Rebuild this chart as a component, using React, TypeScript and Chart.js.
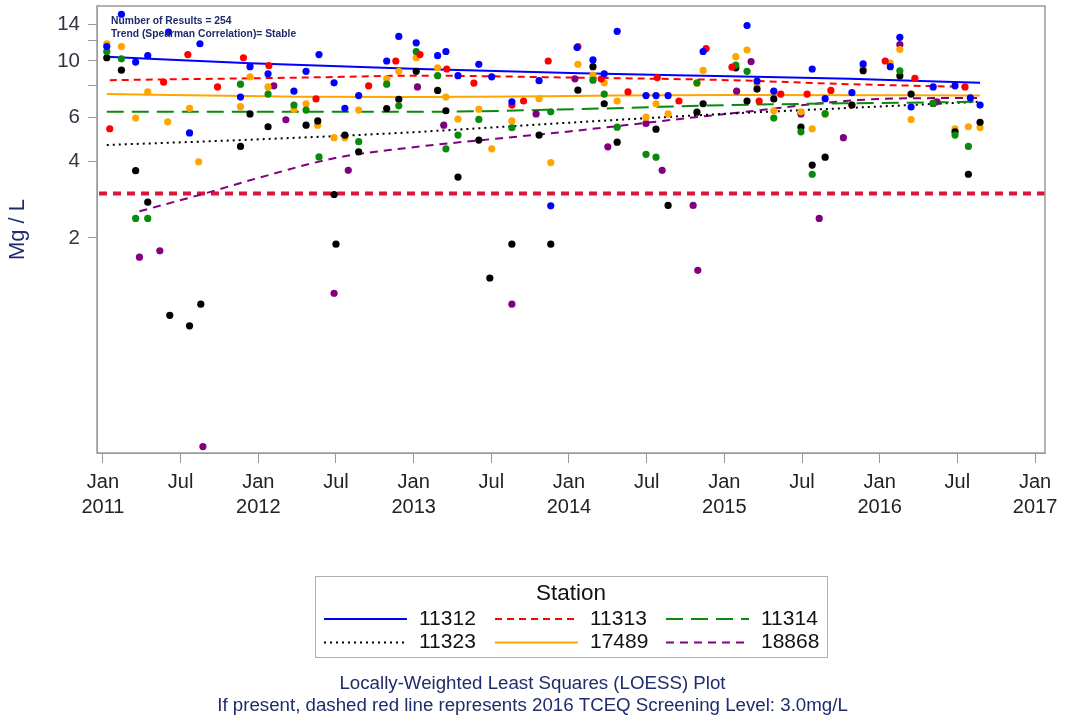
import { useEffect, useRef } from "react";
import { Chart, registerables } from "chart.js";

Chart.register(...registerables);

const FONT = "'Liberation Sans', Arial, Helvetica, sans-serif";
const NAVY = "#1f2c6b";

// ---------- data ----------
const stationNames = ["11312", "11313", "11314", "11323", "17489", "18868"];
const stationColors = ["#0000ff", "#ff0000", "#0a8a0a", "#000000", "#ffa500", "#800080"];
const loessDash: number[][] = [[], [7, 5], [17, 8], [2, 4], [], [8, 6]];

const screeningLevel = 3.0;
const resultCount = 254;
const trendText = "Stable";

const xTickLabels: string[][] = [
  ["Jan", "2011"], ["Jul"], ["Jan", "2012"], ["Jul"], ["Jan", "2013"], ["Jul"],
  ["Jan", "2014"], ["Jul"], ["Jan", "2015"], ["Jul"], ["Jan", "2016"], ["Jul"], ["Jan", "2017"],
];
const yTickValues = [2, 4, 6, 8, 10, 12, 14];
const yTickLabels = ["2", "4", "6", "", "10", "", "14"];

const obs11312: [string, number][] = [
  ["2011-01-10", 11.4], ["2011-02-14", 15.3], ["2011-03-17", 9.9], ["2011-04-15", 10.5], ["2011-06-03", 13.0],
  ["2011-07-22", 5.2], ["2011-08-16", 11.7], ["2011-11-20", 7.2], ["2011-12-12", 9.5], ["2012-01-24", 8.9],
  ["2012-03-24", 7.6], ["2012-04-22", 9.1], ["2012-05-22", 10.6], ["2012-06-27", 8.2], ["2012-07-22", 6.5],
  ["2012-08-24", 7.3], ["2012-10-29", 10.0], ["2012-11-27", 12.5], ["2013-01-07", 11.8], ["2013-02-27", 10.5],
  ["2013-03-16", 10.9], ["2013-04-14", 8.75], ["2013-06-02", 9.7], ["2013-07-02", 8.66], ["2013-08-19", 6.9],
  ["2013-10-22", 8.36], ["2013-11-19", 2.68], ["2014-01-20", 11.3], ["2014-02-27", 10.1], ["2014-03-23", 8.9],
  ["2014-04-23", 13.1], ["2014-06-30", 7.3], ["2014-07-23", 7.3], ["2014-08-21", 7.3], ["2014-11-12", 10.9],
  ["2015-02-24", 13.8], ["2015-03-17", 8.33], ["2015-04-26", 7.6], ["2015-07-25", 9.3], ["2015-08-25", 7.1],
  ["2015-10-27", 7.5], ["2015-11-23", 9.74], ["2016-01-26", 9.5], ["2016-02-18", 12.4], ["2016-03-14", 6.58],
  ["2016-05-05", 7.9], ["2016-06-26", 7.98], ["2016-08-01", 7.15], ["2016-08-24", 6.7],
];
const obs11313: [string, number][] = [
  ["2011-01-17", 5.4], ["2011-05-22", 8.25], ["2011-07-18", 10.6], ["2011-09-27", 7.9], ["2011-11-27", 10.3],
  ["2012-01-26", 9.6], ["2012-05-15", 7.08], ["2012-09-17", 7.98], ["2012-11-20", 10.0], ["2013-01-16", 10.6],
  ["2013-03-18", 9.3], ["2013-05-21", 8.18], ["2013-08-19", 6.7], ["2013-09-16", 6.95], ["2013-11-13", 10.0],
  ["2014-01-22", 11.4], ["2014-03-16", 8.5], ["2014-05-18", 7.55], ["2014-07-26", 8.6], ["2014-09-16", 6.95],
  ["2014-11-19", 11.2], ["2015-01-19", 9.45], ["2015-03-22", 6.95], ["2015-05-12", 7.4], ["2015-07-13", 7.4],
  ["2015-09-08", 7.65], ["2016-01-14", 10.0], ["2016-03-23", 8.54], ["2016-07-19", 7.9],
];
const obs11314: [string, number][] = [
  ["2011-01-10", 10.9], ["2011-02-14", 10.2], ["2011-03-17", 2.39], ["2011-04-15", 2.39], ["2011-11-20", 8.1],
  ["2012-01-24", 7.4], ["2012-03-24", 6.7], ["2012-04-22", 6.4], ["2012-05-22", 4.18], ["2012-08-24", 4.8],
  ["2012-10-29", 8.1], ["2012-11-27", 6.65], ["2013-01-07", 10.9], ["2013-02-27", 8.75], ["2013-03-16", 4.5],
  ["2013-04-14", 5.1], ["2013-06-02", 5.88], ["2013-08-19", 5.45], ["2013-11-19", 6.3], ["2014-02-27", 8.4],
  ["2014-03-23", 7.4], ["2014-04-23", 5.48], ["2014-06-30", 4.28], ["2014-07-23", 4.17], ["2014-10-28", 8.2],
  ["2015-01-28", 9.64], ["2015-02-24", 9.1], ["2015-04-26", 5.95], ["2015-06-29", 5.25], ["2015-07-25", 3.57],
  ["2015-08-25", 6.2], ["2016-02-18", 9.15], ["2016-05-05", 6.8], ["2016-06-26", 5.1], ["2016-07-27", 4.6],
];
const obs11323: [string, number][] = [
  ["2011-01-10", 10.3], ["2011-02-14", 9.2], ["2011-03-17", 3.69], ["2011-04-15", 2.77], ["2011-06-06", 0.99],
  ["2011-07-22", 0.9], ["2011-08-18", 1.095], ["2011-11-20", 4.6], ["2011-12-12", 6.18], ["2012-01-24", 5.5],
  ["2012-04-22", 5.58], ["2012-05-19", 5.8], ["2012-06-27", 2.97], ["2012-07-01", 1.89], ["2012-07-22", 5.1],
  ["2012-08-24", 4.38], ["2012-10-29", 6.49], ["2012-11-27", 7.06], ["2013-01-07", 9.1], ["2013-02-27", 7.65],
  ["2013-03-16", 6.36], ["2013-04-14", 3.48], ["2013-06-02", 4.87], ["2013-06-28", 1.39], ["2013-08-19", 1.89],
  ["2013-10-22", 5.1], ["2013-11-19", 1.89], ["2014-01-22", 7.67], ["2014-02-27", 9.5], ["2014-03-23", 6.78],
  ["2014-04-23", 4.78], ["2014-07-23", 5.38], ["2014-08-21", 2.69], ["2014-10-28", 6.28], ["2014-11-12", 6.78],
  ["2015-01-28", 9.4], ["2015-02-24", 6.95], ["2015-03-17", 7.75], ["2015-04-26", 7.08], ["2015-06-29", 5.48],
  ["2015-07-25", 3.88], ["2015-08-25", 4.17], ["2015-10-27", 6.7], ["2015-11-23", 9.15], ["2016-02-18", 8.74],
  ["2016-03-14", 7.4], ["2016-05-05", 6.8], ["2016-06-26", 5.25], ["2016-07-27", 3.57], ["2016-08-24", 5.73],
];
const obs17489: [string, number][] = [
  ["2011-01-10", 11.7], ["2011-02-14", 11.4], ["2011-03-17", 5.95], ["2011-04-15", 7.55], ["2011-06-01", 5.75],
  ["2011-07-22", 6.5], ["2011-08-13", 4.0], ["2011-11-20", 6.6], ["2011-12-12", 8.65], ["2012-01-24", 7.9],
  ["2012-03-24", 6.45], ["2012-04-22", 6.78], ["2012-05-19", 5.58], ["2012-06-27", 4.98], ["2012-07-22", 4.98],
  ["2012-08-24", 6.4], ["2012-10-29", 8.5], ["2012-11-27", 9.1], ["2013-01-07", 10.3], ["2013-02-27", 9.4],
  ["2013-03-16", 7.2], ["2013-04-14", 5.9], ["2013-06-02", 6.45], ["2013-07-02", 4.5], ["2013-08-19", 5.8],
  ["2013-10-22", 7.1], ["2013-11-19", 3.97], ["2014-01-22", 9.7], ["2014-02-27", 8.8], ["2014-03-23", 8.2],
  ["2014-04-23", 6.95], ["2014-06-30", 6.0], ["2014-07-23", 6.78], ["2014-08-21", 6.18], ["2014-10-28", 8.15],
  ["2014-11-12", 9.18], ["2015-01-28", 10.4], ["2015-02-24", 11.05], ["2015-03-17", 8.04], ["2015-04-26", 6.36],
  ["2015-06-29", 6.3], ["2015-07-25", 5.4], ["2015-08-25", 6.15], ["2015-10-27", 6.7], ["2015-11-23", 9.4],
  ["2016-01-26", 9.8], ["2016-02-18", 11.1], ["2016-03-14", 5.87], ["2016-05-05", 6.8], ["2016-06-26", 5.4],
  ["2016-07-27", 5.5], ["2016-08-24", 5.46],
];
const obs18868: [string, number][] = [
  ["2011-03-26", 1.68], ["2011-05-13", 1.78], ["2011-08-23", 0.3], ["2012-02-07", 7.98], ["2012-03-05", 5.86],
  ["2012-06-27", 1.21], ["2012-07-30", 3.7], ["2013-01-10", 7.9], ["2013-03-11", 5.58], ["2013-08-19", 1.095],
  ["2013-10-15", 6.18], ["2014-01-15", 8.5], ["2014-04-01", 4.58], ["2014-06-30", 5.67], ["2014-08-07", 3.7],
  ["2014-10-19", 2.69], ["2014-10-30", 1.49], ["2015-01-30", 7.6], ["2015-03-03", 9.95], ["2015-06-29", 6.18],
  ["2015-08-11", 2.39], ["2015-10-07", 4.98], ["2016-02-18", 11.6], ["2016-05-14", 6.9],
];

// LOESS fitted curves
const fit11312: [string, number][] = [
  ["2011-01-10", 10.4], ["2011-12-12", 9.8], ["2013-01-16", 9.3], ["2014-01-28", 8.95], ["2015-01-14", 8.7],
  ["2015-10-22", 8.5], ["2016-08-24", 8.2],
];
const fit11313: [string, number][] = [
  ["2011-01-17", 8.4], ["2012-04-08", 8.6], ["2013-01-16", 8.75], ["2014-01-10", 8.6], ["2015-01-14", 8.4],
  ["2015-10-22", 8.1], ["2016-07-25", 7.9],
];
const fit11314: [string, number][] = [
  ["2011-01-10", 6.3], ["2013-01-16", 6.3], ["2014-01-10", 6.45], ["2015-01-14", 6.7], ["2016-08-20", 6.9],
];
const fit11323: [string, number][] = [
  ["2011-01-10", 4.66], ["2011-12-28", 4.9], ["2012-11-30", 5.2], ["2013-12-27", 5.7], ["2015-01-14", 6.2],
  ["2015-09-30", 6.5], ["2016-08-20", 6.9],
];
const fit17489: [string, number][] = [
  ["2011-01-10", 7.4], ["2012-04-08", 7.22], ["2013-01-16", 7.2], ["2014-01-10", 7.28], ["2015-01-14", 7.34],
  ["2016-08-24", 7.3],
];
const fit18868: [string, number][] = [
  ["2011-03-26", 2.55], ["2011-08-28", 3.0], ["2011-12-28", 3.44], ["2012-07-03", 4.15], ["2012-11-30", 4.5],
  ["2013-12-27", 5.26], ["2015-01-14", 6.2], ["2016-01-02", 7.08], ["2016-08-24", 7.15],
];

const observations = [obs11312, obs11313, obs11314, obs11323, obs17489, obs18868];
const fits = [fit11312, fit11313, fit11314, fit11323, fit17489, fit18868];

const X_MIN = -0.46;
const X_MAX = 72.77;
const Y_MIN = 0.283;
const Y_MAX = 16.49;

function toMonths(d: string): number {
  const [y, m, day] = d.split("-").map(Number);
  return (y - 2011) * 12 + (m - 1) + (day - 1) / 30.5;
}

const framePlugin = {
  id: "frame",
  beforeDatasetsDraw(chart: any) {
    const { ctx, chartArea, scales } = chart;
    const y = scales.y.getPixelForValue(screeningLevel);
    ctx.save();
    ctx.beginPath();
    ctx.rect(chartArea.left, chartArea.top, chartArea.right - chartArea.left, chartArea.bottom - chartArea.top);
    ctx.clip();
    ctx.strokeStyle = "#dc143c";
    ctx.lineWidth = 4;
    ctx.setLineDash([8, 6]);
    ctx.beginPath();
    ctx.moveTo(chartArea.left + 2, y);
    ctx.lineTo(chartArea.right, y);
    ctx.stroke();
    ctx.restore();
  },
  afterDraw(chart: any) {
    const { ctx, chartArea, width } = chart;
    ctx.save();
    // frame
    ctx.strokeStyle = "#9a9a9a";
    ctx.lineWidth = 1.5;
    ctx.setLineDash([]);
    ctx.strokeRect(chartArea.left, chartArea.top, chartArea.right - chartArea.left, chartArea.bottom - chartArea.top);

    // annotation
    ctx.fillStyle = NAVY;
    ctx.font = `bold 10.3px ${FONT}`;
    ctx.textAlign = "left";
    ctx.textBaseline = "middle";
    ctx.fillText(`Number of Results = ${resultCount}`, chartArea.left + 14, chartArea.top + 15);
    ctx.fillText(`Trend (Spearman Correlation)= ${trendText}`, chartArea.left + 14, chartArea.top + 28);

    // legend
    const cx = (chartArea.left + chartArea.right) / 2;
    const boxW = 512;
    const boxL = cx - boxW / 2;
    const boxT = 576.5;
    ctx.strokeStyle = "#b0b0b0";
    ctx.lineWidth = 1;
    ctx.strokeRect(Math.round(boxL) + 0.5, boxT, boxW, 81);
    ctx.fillStyle = "#111";
    ctx.font = `22.5px ${FONT}`;
    ctx.textAlign = "center";
    ctx.fillText("Station", cx, 594);
    ctx.font = `21px ${FONT}`;
    stationNames.forEach((name, i) => {
      const col = i % 3;
      const row = Math.floor(i / 3);
      const x0 = boxL + 9 + col * 171;
      const yy = 619 + row * 23.5;
      ctx.strokeStyle = stationColors[i];
      ctx.lineWidth = 2;
      ctx.setLineDash(loessDash[i]);
      ctx.beginPath();
      ctx.moveTo(x0, yy);
      ctx.lineTo(x0 + 83, yy);
      ctx.stroke();
      ctx.setLineDash([]);
      ctx.fillStyle = "#111";
      ctx.textAlign = "left";
      ctx.fillText(name, x0 + 95, yy);
    });

    // footnotes
    ctx.fillStyle = NAVY;
    ctx.font = `18.7px ${FONT}`;
    ctx.textAlign = "center";
    ctx.fillText("Locally-Weighted Least Squares (LOESS) Plot", width / 2, 684);
    ctx.fillText(
      `If present, dashed red line represents 2016 TCEQ Screening Level: ${screeningLevel.toFixed(1)}mg/L`,
      width / 2,
      706
    );
    ctx.restore();
  },
};

export default function App() {
  const ref = useRef<HTMLCanvasElement>(null);

  useEffect(() => {
    document.body.style.margin = "0";
    const canvas = ref.current;
    if (!canvas) return;
    Chart.defaults.font.family = FONT;

    const datasets: any[] = [];
    observations.forEach((obs, i) => {
      datasets.push({
        type: "scatter",
        label: stationNames[i],
        data: obs.map(([d, v]) => ({ x: toMonths(d), y: v })),
        backgroundColor: stationColors[i],
        borderColor: stationColors[i],
        pointRadius: 3.6,
        pointBorderWidth: 0,
        showLine: false,
        order: 0,
      });
    });
    fits.forEach((fit, i) => {
      datasets.push({
        type: "line",
        label: stationNames[i] + " LOESS",
        data: fit.map(([d, v]) => ({ x: toMonths(d), y: v })),
        borderColor: stationColors[i],
        borderWidth: 2,
        borderDash: loessDash[i],
        pointRadius: 0,
        fill: false,
        cubicInterpolationMode: "monotone",
        order: 1,
      });
    });

    const chart = new Chart(canvas, {
      type: "scatter",
      data: { datasets },
      options: {
        animation: false,
        responsive: false,
        devicePixelRatio: 1,
        layout: { padding: { top: 6, right: 20, left: 0, bottom: 0 } },
        plugins: { legend: { display: false }, tooltip: { enabled: false } },
        scales: {
          x: {
            type: "linear",
            min: X_MIN,
            max: X_MAX,
            afterBuildTicks: (s: any) => {
              s.ticks = xTickLabels.map((_, i) => ({ value: i * 6 }));
            },
            afterFit: (s: any) => {
              s.height = 266;
              s.paddingLeft = 0;
              s.paddingRight = 0;
            },
            ticks: {
              autoSkip: false,
              maxRotation: 0,
              padding: 7,
              color: "#222",
              font: { size: 20, lineHeight: 1.25 },
              callback: (_v: any, i: number) => xTickLabels[i],
            },
            grid: { drawOnChartArea: false, drawTicks: true, tickLength: 10, color: "#999" },
            border: { display: true, color: "#9a9a9a" },
          },
          y: {
            type: "logarithmic",
            min: Y_MIN,
            max: Y_MAX,
            afterBuildTicks: (s: any) => {
              s.ticks = yTickValues.map((v) => ({ value: v }));
            },
            afterFit: (s: any) => {
              s.width = 97;
              s.paddingTop = 0;
              s.paddingBottom = 0;
            },
            ticks: {
              padding: 8,
              color: "#333344",
              font: { size: 20.5 },
              callback: (v: any) => {
                const idx = yTickValues.indexOf(Number(v));
                return idx >= 0 ? yTickLabels[idx] : "";
              },
            },
            grid: { drawOnChartArea: false, drawTicks: true, tickLength: 9, color: "#999" },
            border: { display: true, color: "#9a9a9a" },
            title: {
              display: true,
              text: "Mg / L",
              color: NAVY,
              font: { size: 22 },
              padding: { top: 5, bottom: 0 },
            },
          },
        },
      },
      plugins: [framePlugin],
    });

    return () => chart.destroy();
  }, []);

  return <canvas ref={ref} width={1065} height={719} style={{ display: "block" }} />;
}
